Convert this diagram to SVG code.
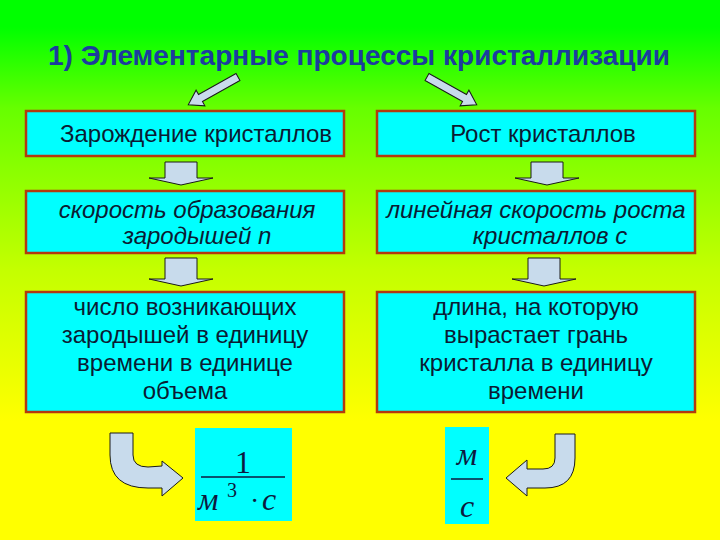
<svg xmlns="http://www.w3.org/2000/svg" width="720" height="540" viewBox="0 0 720 540">
  <defs>
    <linearGradient id="bg" x1="0" y1="0" x2="0" y2="1">
      <stop offset="0.05" stop-color="#00ff00"/>
      <stop offset="0.2" stop-color="#66ff00"/>
      <stop offset="0.5" stop-color="#c4ff00"/>
      <stop offset="0.78" stop-color="#ffff00"/>
      <stop offset="1" stop-color="#ffff00"/>
    </linearGradient>
    <path id="diag" d="M0,-4 H43 V-9 L57,0 L43,9 V4 H0 Z"/>
    <path id="down1" d="M-16,0 H16 V16 H32 L0,23 L-32,16 H-16 Z"/>
    <path id="down2" d="M-16,0 H16 V21 H32 L0,28 L-32,21 H-16 Z"/>
  </defs>
  <style>
    .box { fill: #00ffff; stroke: #b23a10; stroke-width: 2.5; }
    .fbox { fill: #00ffff; }
    .arrow { fill: #c8dbec; stroke: #1a1a1a; stroke-width: 1; stroke-linejoin: miter; }
    .t { font-family: "Liberation Sans", Arial, sans-serif; font-size: 24px; fill: #0b1b33; text-anchor: middle; }
    .i { font-style: italic; }
    .title { font-family: "Liberation Sans", Arial, sans-serif; font-size: 28px; font-weight: bold; fill: #1c3c9e; }
    .f { font-family: "Liberation Serif", "Times New Roman", serif; fill: #0d1a3f; }
    .fl { stroke: #0d1a3f; stroke-width: 1.5; }
  </style>
  <rect x="0" y="0" width="720" height="540" fill="url(#bg)"/>

  <g id="title">
    <text class="title" x="48" y="65" textLength="622" lengthAdjust="spacingAndGlyphs">1) Элементарные процессы кристаллизации</text>
  </g>

  <g id="connectors">
    <use href="#diag" class="arrow" transform="translate(238,77) rotate(150.75)"/>
    <use href="#diag" class="arrow" transform="translate(427,77) rotate(29.25)"/>
    <use href="#down1" class="arrow" transform="translate(181,162)"/>
    <use href="#down1" class="arrow" transform="translate(547,162)"/>
    <use href="#down2" class="arrow" transform="translate(181,258)"/>
    <use href="#down2" class="arrow" transform="translate(544,258)"/>
    <path class="arrow" d="M110,433 L133,433 L133,455 Q133,467 148,467 L162,466 L162,461 L183,478 L162,496 L162,488 L148,488 Q110,488 110,455 Z"/>
    <path class="arrow" d="M575,434 L555,434 L555,458 Q555,469 543,469 L527,469 L527,460 L506,478 L527,496 L527,488 L545,488 Q575,488 575,458 Z"/>
  </g>

  <g id="nucleation">
    <rect class="box" x="26" y="111" width="318" height="45"/>
    <text class="t" x="196" y="142">Зарождение кристаллов</text>
  </g>
  <g id="growth">
    <rect class="box" x="377" y="111" width="318" height="45"/>
    <text class="t" x="543" y="142">Рост кристаллов</text>
  </g>
  <g id="nucleation-rate">
    <rect class="box" x="26" y="191" width="318" height="62"/>
    <text class="t i" x="187" y="218">скорость образования</text>
    <text class="t i" x="197" y="244">зародышей n</text>
  </g>
  <g id="growth-rate">
    <rect class="box" x="377" y="191" width="318" height="62"/>
    <text class="t i" x="536" y="218">линейная скорость роста</text>
    <text class="t i" x="550" y="244">кристаллов с</text>
  </g>
  <g id="nucleation-def">
    <rect class="box" x="26" y="292" width="318" height="120"/>
    <text class="t" x="185" y="315">число возникающих</text>
    <text class="t" x="185" y="343">зародышей в единицу</text>
    <text class="t" x="185" y="371">времени в единице</text>
    <text class="t" x="185" y="399">объема</text>
  </g>
  <g id="growth-def">
    <rect class="box" x="377" y="292" width="318" height="120"/>
    <text class="t" x="536" y="315">длина, на которую</text>
    <text class="t" x="536" y="343">вырастает грань</text>
    <text class="t" x="536" y="371">кристалла в единицу</text>
    <text class="t" x="536" y="399">времени</text>
  </g>

  <g id="unit-n">
    <rect class="fbox" x="195" y="428" width="97" height="93"/>
    <text class="f" x="243" y="473" font-size="32" text-anchor="middle">1</text>
    <line class="fl" x1="201" y1="477" x2="285" y2="477"/>
    <text class="f" x="198" y="510" font-size="32" font-style="italic">м</text>
    <text class="f" x="227" y="497" font-size="20">3</text>
    <text class="f" x="250" y="510" font-size="28">·</text>
    <text class="f" x="262" y="510" font-size="32" font-style="italic">с</text>
  </g>
  <g id="unit-c">
    <rect class="fbox" x="445" y="427" width="44" height="97"/>
    <text class="f" x="467" y="465" font-size="32" font-style="italic" text-anchor="middle">м</text>
    <line class="fl" x1="451" y1="479" x2="483" y2="479"/>
    <text class="f" x="467" y="517" font-size="32" font-style="italic" text-anchor="middle">с</text>
  </g>
</svg>
